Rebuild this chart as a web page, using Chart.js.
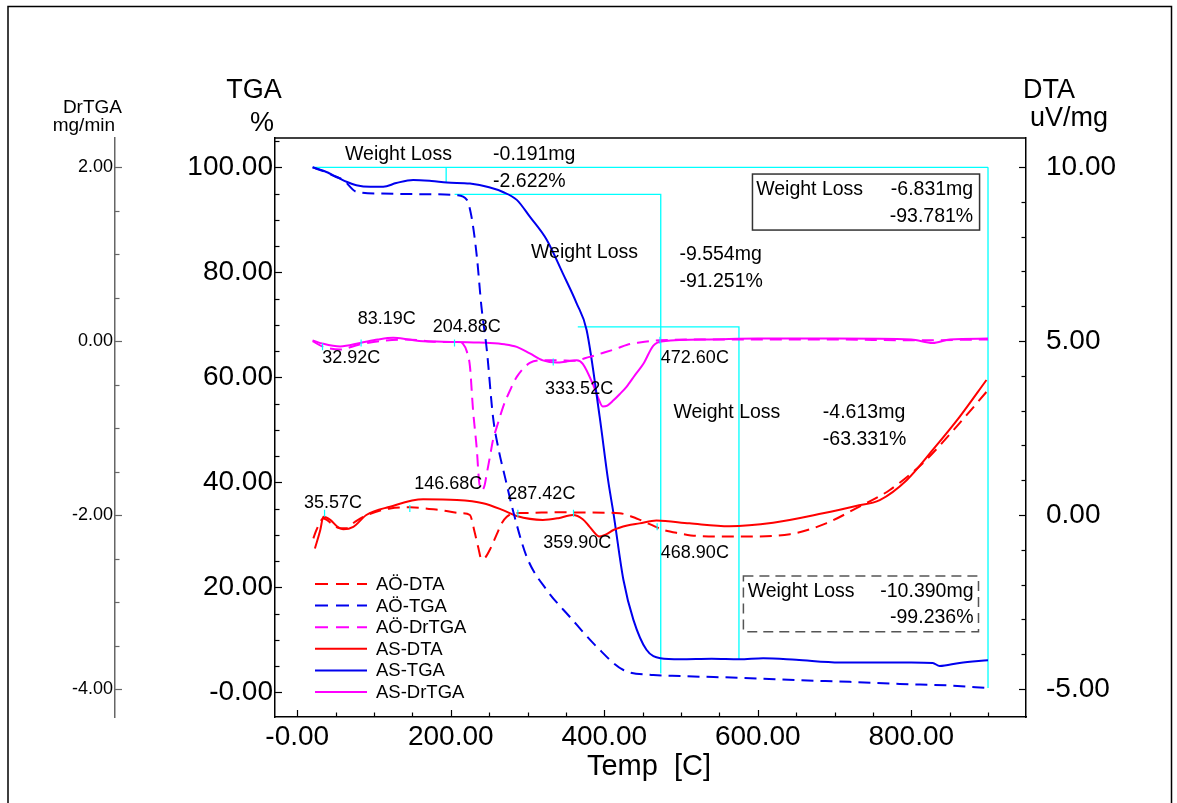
<!DOCTYPE html>
<html>
<head>
<meta charset="utf-8">
<script src="https://cdn.jsdelivr.net/npm/chart.js@4.4.1/dist/chart.umd.min.js"></script>
<style>
    html, body { margin: 0; padding: 0; background: #fff; }
    #wrap { width: 1177px; height: 803px; }
</style>
</head>
<body>
<div id="wrap"><canvas id="tgaChart" width="1177" height="803"></canvas></div>
<script>
// Nombres de las series (orden de la leyenda)
const seriesNames = ['AÖ-DTA', 'AÖ-TGA', 'AÖ-DrTGA', 'AS-DTA', 'AS-TGA', 'AS-DrTGA'];

// AS-TGA (%)
const asTgaTemp = [20, 35, 51, 65, 77, 95, 112, 129, 151, 175, 195, 225, 250, 268, 286, 303, 325, 346, 364, 377, 394, 405, 412, 425, 438, 455, 473, 499, 540, 576, 607, 650, 707, 760, 800, 828, 837, 863, 900];
const asTgaVal = [100, 99.3, 98.2, 97.2, 96.6, 96.3, 96.3, 97.0, 97.6, 97.4, 97.1, 96.9, 96.2, 95.3, 93.8, 90.6, 86.2, 79.8, 74.1, 69.0, 52.5, 40.4, 34.1, 21.4, 13.8, 8.1, 6.5, 6.3, 6.4, 6.3, 6.5, 6.2, 5.7, 5.7, 5.7, 5.6, 5.0, 5.6, 6.1];

// AÖ-TGA (%)
const aoTgaTemp = [20, 35, 50, 60, 77, 108, 150, 182, 208, 221, 227, 234, 240, 247, 255, 262, 271, 282, 299, 325, 355, 390, 425, 464, 499, 590, 655, 720, 785, 850, 900];
const aoTgaVal = [100, 99.2, 98.2, 97.6, 95.35, 95.0, 94.9, 94.86, 94.7, 93.8, 90.6, 83.0, 73.4, 65.2, 52.5, 46.5, 40.8, 34.1, 25.8, 19.5, 14.4, 8.7, 4.25, 3.3, 3.1, 2.7, 2.3, 2.0, 1.6, 1.3, 0.8];

// AS-DrTGA (mg/min)
const asDrTemp = [20, 34, 56, 82, 105, 125, 145, 164, 190, 208, 230, 251, 270, 286, 303, 320, 338, 350, 364, 372, 385, 392, 398, 404, 412, 420, 429, 440, 451, 464, 477, 537, 600, 700, 800, 828, 850, 900];
const asDrVal = [0.01, -0.03, -0.06, -0.02, 0.02, 0.04, 0.02, 0.0, -0.005, -0.01, -0.015, -0.02, -0.035, -0.065, -0.14, -0.22, -0.245, -0.235, -0.22, -0.26, -0.49, -0.65, -0.75, -0.74, -0.68, -0.61, -0.525, -0.39, -0.26, -0.05, 0.0, 0.02, 0.03, 0.03, 0.02, -0.02, 0.02, 0.03];

// AÖ-DrTGA (mg/min)
const aoDrTemp = [20, 34, 56, 80, 99, 142, 186, 210, 216, 221, 225, 229, 234, 237, 241, 244, 247, 251, 255, 262, 268, 277, 286, 303, 320, 340, 359, 381, 400, 416, 430, 446, 472, 533, 600, 700, 800, 900];
const aoDrVal = [0.0, -0.065, -0.095, -0.04, -0.008, 0.02, -0.008, -0.01, -0.03, -0.12, -0.29, -0.79, -1.25, -1.62, -1.71, -1.66, -1.52, -1.33, -1.14, -0.93, -0.76, -0.57, -0.41, -0.25, -0.22, -0.22, -0.226, -0.18, -0.13, -0.085, -0.04, -0.015, 0.01, 0.02, 0.02, 0.02, 0.01, 0.02];

// AS-DTA (uV/mg)
const asDtaTemp = [23, 30, 34, 43, 52, 60, 73, 90, 121, 164, 208, 242, 268, 286, 320, 340, 359, 372, 381, 394, 403, 412, 430, 446, 468, 511, 563, 620, 685, 728, 759, 794, 828, 863, 898];
const asDtaVal = [-0.96, -0.43, -0.05, -0.14, -0.33, -0.41, -0.34, 0.0, 0.24, 0.45, 0.43, 0.34, 0.14, -0.03, -0.14, -0.09, 0.0, -0.12, -0.34, -0.62, -0.55, -0.43, -0.30, -0.24, -0.16, -0.24, -0.32, -0.22, 0.05, 0.26, 0.43, 1.0, 1.87, 2.82, 3.88];

// AÖ-DTA (uV/mg)
const aoDtaTemp = [21, 25, 34, 45, 55, 64, 75, 86, 121, 147, 186, 215, 225, 231, 236, 240, 245, 252, 260, 266, 273, 282, 300, 338, 381, 420, 442, 460, 477, 499, 520, 576, 642, 689, 728, 772, 815, 859, 900];
const aoDtaVal = [-0.67, -0.43, -0.1, -0.25, -0.38, -0.38, -0.2, -0.05, 0.19, 0.22, 0.14, 0.05, 0.0, -0.48, -0.95, -1.27, -1.22, -0.95, -0.55, -0.25, -0.05, 0.05, 0.06, 0.08, 0.07, 0.05, -0.1, -0.27, -0.43, -0.53, -0.6, -0.62, -0.55, -0.24, 0.19, 0.72, 1.49, 2.54, 3.59];

// Picos marcados
const drPeakTemp = [32.92, 83.19, 204.88, 333.52, 472.60];
const drPeakVal = [-0.065, -0.02, -0.02, -0.24, 0.01];
const dtaPeakTemp = [35.57, 146.68, 287.42, 359.90, 468.90];
const dtaPeakVal = [0.05, 0.19, 0.05, 0.05, -0.34];

// Escalones de pérdida de peso (líneas cian, en %)
const stepTemp = [[21, 900], [194, 194], [205, 473.6, 473.6], [365.5, 575.5, 575.5], [900, 900]];
const stepTga = [[100, 100], [100, 97.1], [94.86, 94.86, 3.6], [69.6, 69.6, 6.3], [100, 0.8]];

// Textos de pérdida de peso
const lossMg = ['-0.191mg', '-9.554mg', '-6.831mg', '-4.613mg', '-10.390mg'];
const lossPct = ['-2.622%', '-91.251%', '-93.781%', '-63.331%', '-99.236%'];

// Marcas de los ejes
const tempTicks = [0, 200, 400, 600, 800];
const tempTickLabels = ['-0.00', '200.00', '400.00', '600.00', '800.00'];
const tgaTicks = [0, 20, 40, 60, 80, 100];
const tgaTickLabels = ['-0.00', '20.00', '40.00', '60.00', '80.00', '100.00'];
const drTicks = [-4, -2, 0, 2];
const drTickLabels = ['-4.00', '-2.00', '0.00', '2.00'];
const dtaTicks = [-5, 0, 5, 10];
const dtaTickLabels = ['-5.00', '0.00', '5.00', '10.00'];

const FONT = '"Liberation Sans", Arial, Helvetica, sans-serif';
const RED = '#ff0000', BLUE = '#0000ee', MAGENTA = '#ff00ff', CYAN = '#00ffff';
const DASH = [12, 7];

// posiciones de los textos (°C, % TGA)
const lossLayout = [
    { tx: 62.2, ty: 101.4, vx: 255.1, vy: 101.4, py: 96.25, align: 'left' },
    { tx: 304.6, ty: 82.67, vx: 497.9, vy: 82.34, py: 77.26, align: 'left' },
    { tx: 597.9, ty: 94.7, vx: 880.7, vy: 94.7, py: 89.64, align: 'right', box: [593.1, 98.72, 889, 88.05], dash: false },
    { tx: 490.1, ty: 52.19, vx: 684.8, vy: 52.19, py: 47.1, align: 'left' },
    { tx: 586.8, ty: 18.2, vx: 881.1, vy: 18.2, py: 13.26, align: 'right', box: [581.3, 22.15, 887.6, 11.54], dash: true }
];
const drPeakLabelPos = [[32.6, 62.67], [78.7, 70.15], [176.5, 68.57], [322.9, 56.76], [473.7, 62.67]];
const dtaPeakLabelPos = [[8.7, 35.05], [152.5, 38.72], [273.7, 36.76], [320.6, 27.43], [473.7, 25.52]];

function pts(temps, vals) {
    return temps.map((t, i) => ({ x: t, y: vals[i] }));
}

function curve(label, temps, vals, color, dashed, axis) {
    return {
        label: label,
        data: pts(temps, vals),
        yAxisID: axis,
        borderColor: color,
        borderWidth: 2,
        borderDash: dashed ? DASH : [],
        pointRadius: 0,
        cubicInterpolationMode: 'monotone',
        fill: false,
        inLegend: true
    };
}

const datasets = [];
// marcas de picos (encima)
datasets.push({ label: 'drPeaks', data: pts(drPeakTemp, drPeakVal), yAxisID: 'yDr', showLine: false,
    pointStyle: 'line', pointRotation: 90, pointRadius: 3.5, pointBorderColor: CYAN, pointBorderWidth: 1.2 });
datasets.push({ label: 'dtaPeaks', data: pts(dtaPeakTemp, dtaPeakVal), yAxisID: 'yDta', showLine: false,
    pointStyle: 'line', pointRotation: 90, pointRadius: 3.5, pointBorderColor: CYAN, pointBorderWidth: 1.2 });

datasets.push(curve(seriesNames[0], aoDtaTemp, aoDtaVal, RED, true, 'yDta'));
datasets.push(curve(seriesNames[1], aoTgaTemp, aoTgaVal, BLUE, true, 'yTga'));
datasets.push(curve(seriesNames[2], aoDrTemp, aoDrVal, MAGENTA, true, 'yDr'));
datasets.push(curve(seriesNames[3], asDtaTemp, asDtaVal, RED, false, 'yDta'));
datasets.push(curve(seriesNames[4], asTgaTemp, asTgaVal, BLUE, false, 'yTga'));
datasets.push(curve(seriesNames[5], asDrTemp, asDrVal, MAGENTA, false, 'yDr'));

// líneas cian de los escalones (debajo)
stepTemp.forEach((temps, i) => {
    datasets.push({ label: 'step' + i, data: pts(temps, stepTga[i]), yAxisID: 'yTga',
        borderColor: CYAN, borderWidth: 1.3, pointRadius: 0, tension: 0, fill: false });
});

function fixTicks(values) {
    return scale => { scale.ticks = values.map(v => ({ value: v })); };
}
function pickLabel(labels) {
    return (value, index) => labels[index];
}

function drawTicks(ctx, scale, step, major, side, color) {
    ctx.save();
    ctx.strokeStyle = color;
    ctx.lineWidth = 1.2;
    for (let k = Math.ceil(scale.min / step - 1e-9); k * step <= scale.max + 1e-9; k++) {
        const v = k * step;
        const isMajor = Math.abs(v / major - Math.round(v / major)) < 1e-6;
        const len = isMajor ? 7 : 4.5;
        const p = Math.round(scale.getPixelForValue(v)) + 0.5;
        ctx.beginPath();
        if (side === 'up') { ctx.moveTo(p, scale.top); ctx.lineTo(p, scale.top - len); }
        else if (side === 'right') { ctx.moveTo(scale.right, p); ctx.lineTo(scale.right + len, p); }
        else { ctx.moveTo(scale.left, p); ctx.lineTo(scale.left - len, p); }
        ctx.stroke();
    }
    ctx.restore();
}

function text(ctx, str, x, y, size, align) {
    ctx.font = size + 'px ' + FONT;
    ctx.textAlign = align || 'left';
    ctx.fillText(str, x, y);
}

const decorPlugin = {
    id: 'decor',
    afterDraw(chart) {
        const ctx = chart.ctx;
        const a = chart.chartArea;
        const sx = chart.scales.x, sT = chart.scales.yTga, sD = chart.scales.yDr, sA = chart.scales.yDta;
        const X = v => sx.getPixelForValue(v);
        const Y = v => sT.getPixelForValue(v);

        ctx.save();
        // marco exterior
        ctx.strokeStyle = '#000';
        ctx.lineWidth = 1.5;
        ctx.strokeRect(8, 6.5, 1163.5, 830);
        // borde superior del gráfico
        ctx.lineWidth = 1.3;
        ctx.beginPath();
        ctx.moveTo(a.left, a.top + 0.5);
        ctx.lineTo(a.right, a.top + 0.5);
        ctx.stroke();

        drawTicks(ctx, sx, 50, 200, 'up', '#000');
        drawTicks(ctx, sT, 5, 20, 'right', '#000');
        drawTicks(ctx, sD, 0.5, 2, 'right', '#666');
        drawTicks(ctx, sA, 1, 5, 'left', '#000');

        // títulos de ejes
        ctx.fillStyle = '#000';
        ctx.textBaseline = 'alphabetic';
        text(ctx, 'TGA', 254, 98, 27, 'center');
        text(ctx, '%', 262, 131, 27, 'center');
        text(ctx, 'DrTGA', 122, 113, 19, 'right');
        text(ctx, 'mg/min', 115, 131, 19, 'right');
        text(ctx, 'DTA', 1049, 98, 27, 'center');
        text(ctx, 'uV/mg', 1069, 126, 27, 'center');
        text(ctx, 'Temp  [C]', 649, 775, 29, 'center');

        // pérdidas de peso
        lossLayout.forEach((L, i) => {
            if (L.box) {
                ctx.save();
                ctx.strokeStyle = L.dash ? '#555' : '#333';
                ctx.lineWidth = 1.5;
                ctx.setLineDash(L.dash ? [10, 6] : []);
                ctx.strokeRect(X(L.box[0]), Y(L.box[1]), X(L.box[2]) - X(L.box[0]), Y(L.box[3]) - Y(L.box[1]));
                ctx.restore();
            }
            text(ctx, 'Weight Loss', X(L.tx), Y(L.ty), 19.5, 'left');
            text(ctx, lossMg[i], X(L.vx), Y(L.vy), 19.5, L.align);
            text(ctx, lossPct[i], X(L.vx), Y(L.py), 19.5, L.align);
        });

        // etiquetas de picos
        drPeakTemp.forEach((t, i) => {
            text(ctx, t.toFixed(2) + 'C', X(drPeakLabelPos[i][0]), Y(drPeakLabelPos[i][1]), 18, 'left');
        });
        dtaPeakTemp.forEach((t, i) => {
            text(ctx, t.toFixed(2) + 'C', X(dtaPeakLabelPos[i][0]), Y(dtaPeakLabelPos[i][1]), 18, 'left');
        });

        // leyenda
        const items = chart.data.datasets.filter(d => d.inLegend);
        items.forEach((d, i) => {
            const y = a.bottom - 133 + i * 21.6;
            ctx.save();
            ctx.strokeStyle = d.borderColor;
            ctx.lineWidth = 2;
            ctx.setLineDash(d.borderDash.length ? [13, 8] : []);
            ctx.beginPath();
            ctx.moveTo(a.left + 40, y);
            ctx.lineTo(a.left + 92, y);
            ctx.stroke();
            ctx.restore();
            ctx.textBaseline = 'middle';
            text(ctx, d.label, a.left + 101, y + 1, 18.5, 'left');
        });
        ctx.restore();
    }
};

const ctx = document.getElementById('tgaChart').getContext('2d');
const tgaChart = new Chart(ctx, {
    type: 'line',
    data: { datasets: datasets },
    plugins: [decorPlugin],
    options: {
        responsive: false,
        animation: false,
        layout: { padding: { top: 137.5, left: 0, right: 0, bottom: 0 } },
        plugins: { legend: { display: false }, tooltip: { enabled: false } },
        scales: {
            x: {
                type: 'linear',
                min: -29, max: 949.5,
                afterBuildTicks: fixTicks(tempTicks),
                afterFit: s => { s.height = 86; },
                grid: { display: false, tickLength: 0 },
                border: { display: true, color: '#000', width: 1.5 },
                ticks: { callback: pickLabel(tempTickLabels), autoSkip: false, maxRotation: 0, minRotation: 0,
                    padding: 3, color: '#000', font: { family: FONT, size: 28 } }
            },
            yTga: {
                position: 'left', weight: 0,
                min: -4.70, max: 105.68,
                afterBuildTicks: fixTicks(tgaTicks),
                afterFit: s => { s.width = 160; },
                grid: { display: false, tickLength: 0 },
                border: { display: true, color: '#000', width: 1.5 },
                ticks: { callback: pickLabel(tgaTickLabels), autoSkip: false, padding: 2, color: '#000',
                    font: { family: FONT, size: 28 } }
            },
            yDr: {
                position: 'left', weight: 1,
                min: -4.322, max: 2.343,
                afterBuildTicks: fixTicks(drTicks),
                afterFit: s => { s.width = 115; },
                grid: { display: false, tickLength: 0 },
                border: { display: true, color: '#666', width: 1.5 },
                ticks: { callback: pickLabel(drTickLabels), autoSkip: false, padding: 2, color: '#000',
                    font: { family: FONT, size: 18 } }
            },
            yDta: {
                position: 'right',
                min: -5.804, max: 10.848,
                afterBuildTicks: fixTicks(dtaTicks),
                afterFit: s => { s.width = 151; },
                grid: { display: false, tickLength: 0 },
                border: { display: true, color: '#000', width: 1.5 },
                ticks: { callback: pickLabel(dtaTickLabels), autoSkip: false, padding: 20, color: '#000',
                    font: { family: FONT, size: 28 } }
            }
        }
    }
});
</script>
</body>
</html>
